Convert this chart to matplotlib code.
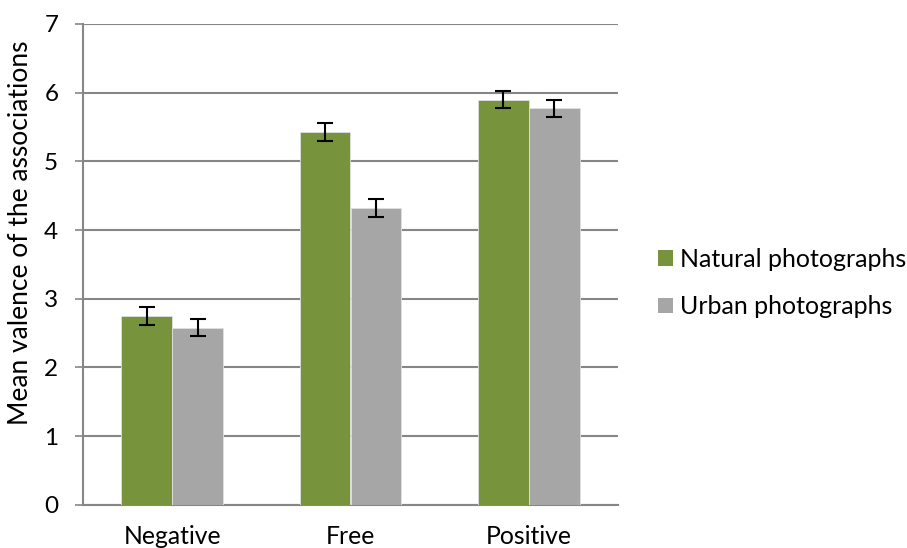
import matplotlib
matplotlib.use("Agg")
import matplotlib.pyplot as plt
import numpy as np
from matplotlib.patches import Patch

categories = ["Negative", "Free", "Positive"]
natural = [2.75, 5.43, 5.90]
urban = [2.58, 4.32, 5.77]
natural_err = [0.13, 0.13, 0.13]
urban_err = [0.13, 0.13, 0.13]
series_names = ["Natural photographs", "Urban photographs"]
yticks = [0, 1, 2, 3, 4, 5, 6, 7]

plt.rcParams['font.family'] = ['Lato', 'DejaVu Sans']

fig = plt.figure(figsize=(9.07, 5.48), dpi=100)
ax = fig.add_axes([83/907, 1 - 504.7/548, (618-83)/907, (504.7-24)/548])

green = "#77933C"
gray = "#A6A6A6"
x = np.arange(len(categories))
w = 1/3.5
ax.bar(x - w/2, natural, w, color=green, edgecolor="#E0E0E0", linewidth=0.6, zorder=3)
ax.bar(x + w/2, urban, w, color=gray, edgecolor="#E0E0E0", linewidth=0.6, zorder=3)
ax.errorbar(x - w/2, natural, yerr=natural_err, fmt='none', ecolor='black', elinewidth=1.5, capsize=5.5, capthick=1.5, zorder=4)
ax.errorbar(x + w/2, urban, yerr=urban_err, fmt='none', ecolor='black', elinewidth=1.5, capsize=5.5, capthick=1.5, zorder=4)

ax.set_xlim(-0.5, 2.5)
ax.set_ylim(0, 7)
ax.set_yticks(yticks)
ax.set_yticklabels([str(t) for t in yticks], fontsize=17.5)
ax.set_xticks(x)
ax.set_xticklabels(categories, fontsize=17.8)
ax.tick_params(axis='x', length=0, pad=14.5)
ax.tick_params(axis='y', length=5.8, width=1.2, color='#868686', pad=12, direction='out')
ax.yaxis.grid(True, color='#868686', linewidth=1.5, zorder=0)
ax.set_axisbelow(True)
for s in ['top', 'right']:
    ax.spines[s].set_visible(False)
ax.spines['left'].set_color('#868686')
ax.spines['left'].set_linewidth(1.5)
ax.spines['bottom'].set_color('#868686')
ax.spines['bottom'].set_linewidth(1.5)
ax.set_ylabel("Mean valence of the associations", fontsize=19)
ax.yaxis.set_label_coords((33 - 83) / 535, (504.7 - 233) / 480.7)

handles = [Patch(facecolor=green, edgecolor='none'), Patch(facecolor=gray, edgecolor='none')]
fig.legend(handles, series_names, loc='center left', bbox_to_anchor=(658/907, 1 - 283/548),
           frameon=False, fontsize=18, handlelength=0.6, handleheight=0.6,
           handletextpad=0.27, labelspacing=0.98, borderpad=0, borderaxespad=0)

fig.savefig("out.png", dpi=100)
